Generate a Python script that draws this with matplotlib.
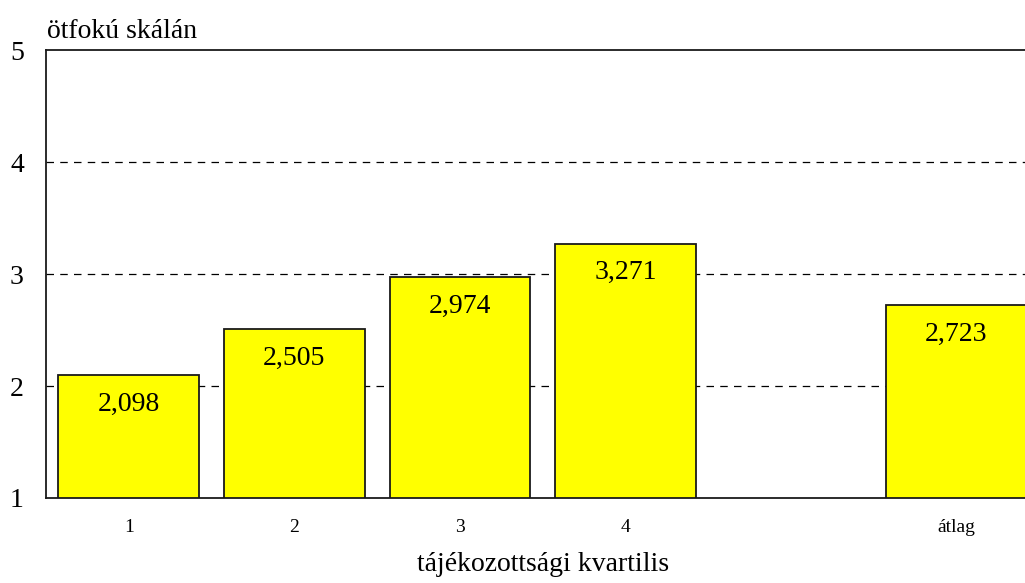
import matplotlib
matplotlib.use("Agg")
import matplotlib.pyplot as plt

categories = ["1", "2", "3", "4", "átlag"]
positions = [0, 1, 2, 3, 5]
values = [2.098, 2.505, 2.974, 3.271, 2.723]
value_labels = ["2,098", "2,505", "2,974", "3,271", "2,723"]
y_ticks = [1, 2, 3, 4, 5]

plt.rcParams["font.family"] = ["Liberation Serif", "DejaVu Serif"]

fig = plt.figure(figsize=(10.25, 5.83), dpi=100)
ax = fig.add_axes([0.0449, 0.1458, 0.969, 0.7684])

ax.bar(positions, [v - 1 for v in values], bottom=1, width=0.85,
       color="#ffff00", edgecolor="#1a1a1a", linewidth=1.3, zorder=3)

for x, v, lab in zip(positions, values, value_labels):
    ax.annotate(lab, xy=(x, v), xytext=(0, -12), textcoords="offset points",
                ha="center", va="top", fontsize=20, zorder=4)

ax.set_xlim(-0.5, 5.5)
ax.set_ylim(1, 5)
ax.set_yticks(y_ticks)
ax.set_yticklabels([str(t) for t in y_ticks], fontsize=20)
ax.set_xticks(positions)
ax.set_xticklabels(categories, fontsize=14)
ax.tick_params(axis="both", length=0)
ax.tick_params(axis="y", pad=16)
ax.tick_params(axis="x", pad=15)

for t in [2, 3, 4]:
    ax.axhline(t, color="black", linewidth=0.9, linestyle=(0, (6, 5)), zorder=1)

for side in ["left", "bottom", "top"]:
    ax.spines[side].set_linewidth(1.3)
    ax.spines[side].set_color("#1a1a1a")
ax.spines["right"].set_visible(False)

ax.set_xlabel("tájékozottsági kvartilis", fontsize=20, labelpad=12)
fig.text(0.046, 0.925, "ötfokú skálán", fontsize=20, ha="left", va="bottom")

fig.savefig("out.png", dpi=100)
